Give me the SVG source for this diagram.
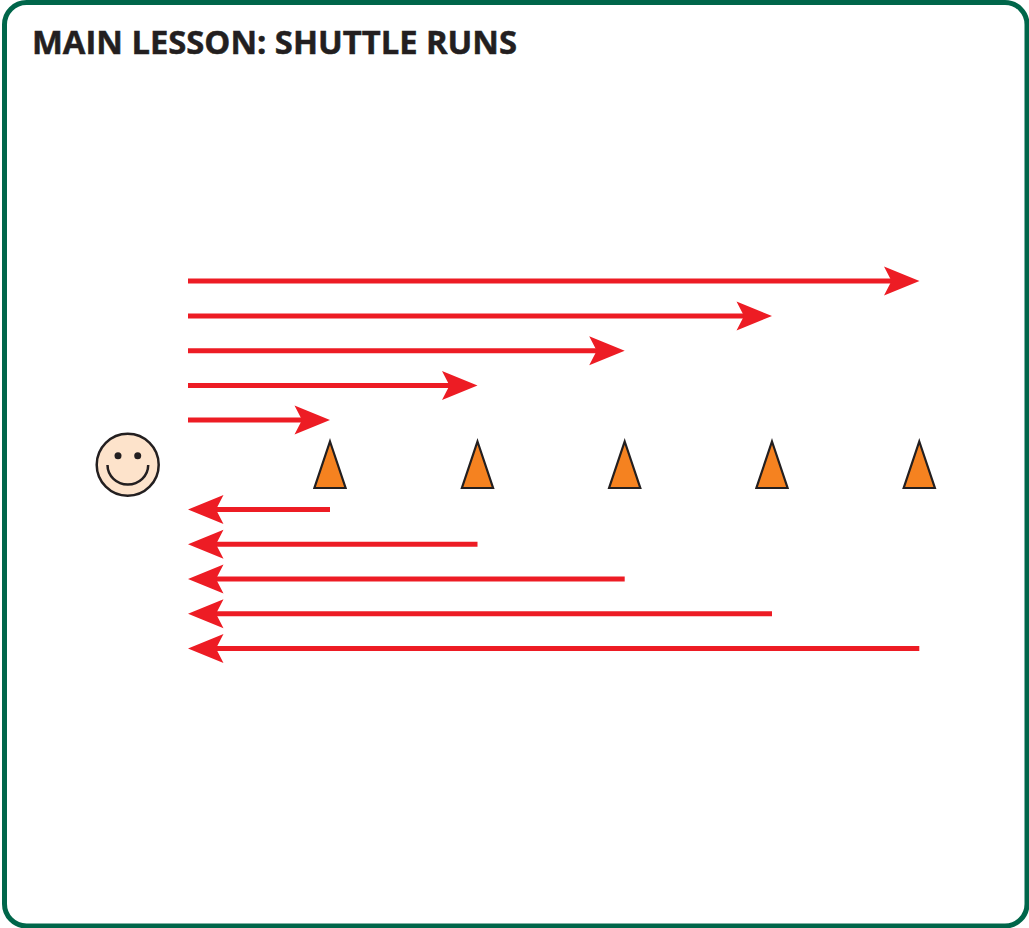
<svg xmlns="http://www.w3.org/2000/svg" width="1029" height="928" viewBox="0 0 1029 928">
<style>
.title{font-family:"Open Sans","Noto Sans","Liberation Sans",sans-serif;font-weight:700;font-size:32px;fill:#231f20;stroke:#231f20;stroke-width:.5}
.cone{fill:#f58220;stroke:#231f20;stroke-width:2.2;stroke-linejoin:miter}
.line{stroke:#ed1c24;stroke-width:5;fill:none}
.head{fill:#ed1c24}
</style>
<defs>
<path id="hr" class="head" d="M0 0L-35.500 -14.500L-28 0L-35.500 14.500Z"/>
<path id="hl" class="head" d="M0 0L35.500 -14.500L28 0L35.500 14.500Z"/>
<path id="c" class="cone" d="M0 -46.500L15.600 0L-15.600 0Z"/>
</defs>
<rect id="frame" x="4.500" y="2.500" width="1022.500" height="923.500" rx="22" ry="22" fill="#fff" stroke="#00664a" stroke-width="5"/>
<text id="title" class="title" x="32" y="54" textLength="485" lengthAdjust="spacingAndGlyphs">MAIN LESSON: SHUTTLE RUNS</text>
<g id="person">
<circle cx="127.700" cy="464.700" r="31" fill="#fde3cb" stroke="#231f20" stroke-width="2.500"/>
<circle cx="118" cy="455.700" r="3.500" fill="#231f20"/>
<circle cx="137.700" cy="455.700" r="3.500" fill="#231f20"/>
<path d="M107.500 465A20.300 19.500 0 0 0 148.200 465" fill="none" stroke="#231f20" stroke-width="2.500"/>
</g>
<g id="cone1"><use href="#c" x="330" y="488"/></g>
<g id="cone2"><use href="#c" x="477.500" y="488"/></g>
<g id="cone3"><use href="#c" x="624.700" y="488"/></g>
<g id="cone4"><use href="#c" x="772" y="488"/></g>
<g id="cone5"><use href="#c" x="919.300" y="488"/></g>
<g id="connectors">
<path class="line" d="M188 281H895"/><use href="#hr" x="919.500" y="281"/>
<path class="line" d="M188 316H748"/><use href="#hr" x="772" y="316"/>
<path class="line" d="M188 350.700H600"/><use href="#hr" x="624.700" y="350.700"/>
<path class="line" d="M188 385.500H453"/><use href="#hr" x="477.500" y="385.500"/>
<path class="line" d="M188 420H306"/><use href="#hr" x="330" y="420"/>
<path class="line" d="M330 509.500H212"/><use href="#hl" x="188" y="509.500"/>
<path class="line" d="M477.500 544.200H212"/><use href="#hl" x="188" y="544.200"/>
<path class="line" d="M624.700 579H212"/><use href="#hl" x="188" y="579"/>
<path class="line" d="M772 613.700H212"/><use href="#hl" x="188" y="613.700"/>
<path class="line" d="M919.300 648.500H212"/><use href="#hl" x="188" y="648.500"/>
</g>
</svg>
